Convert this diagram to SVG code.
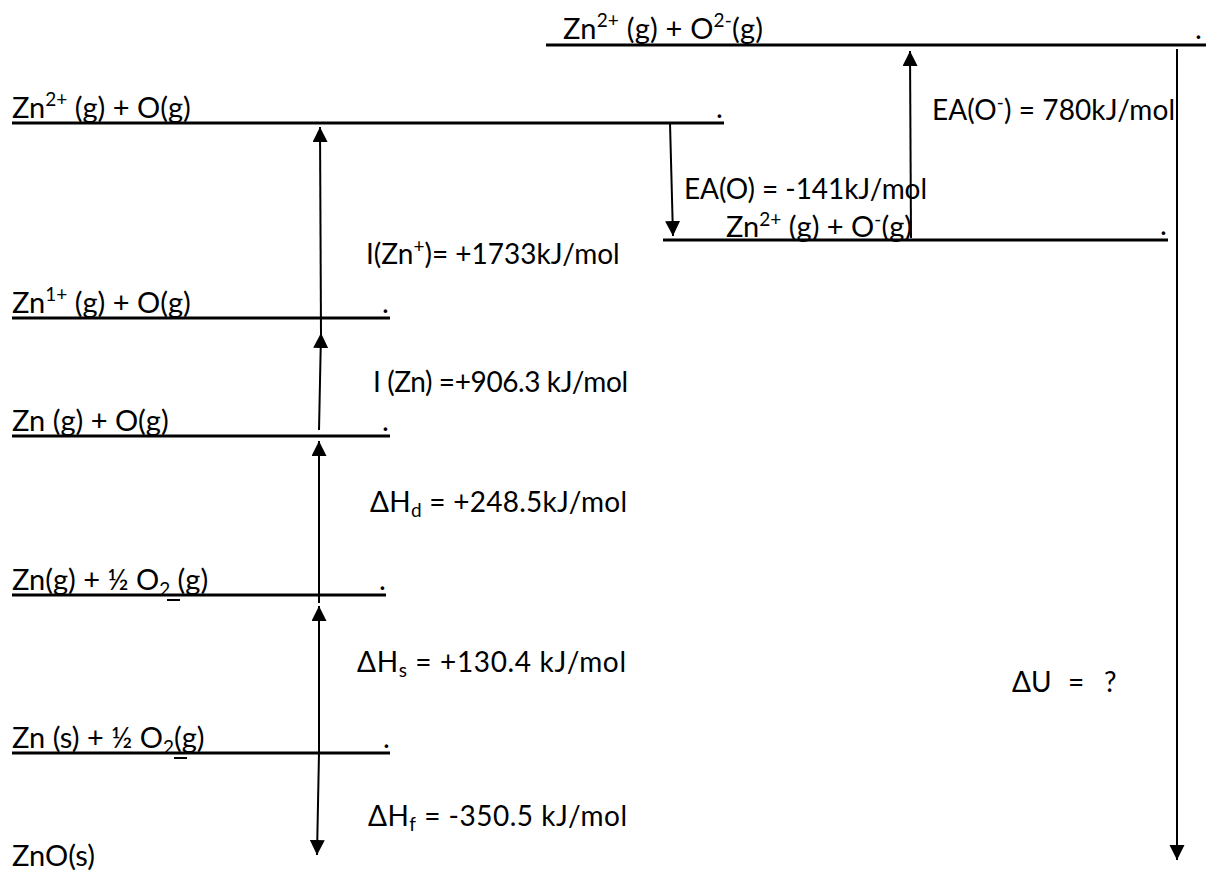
<svg xmlns="http://www.w3.org/2000/svg" width="1206" height="870" viewBox="0 0 1206 870">
<style>
text{font-family:Lato,"DejaVu Sans",sans-serif;font-size:29px;fill:#000}
.lab{font-size:28px}
.lvl{stroke:#000;stroke-width:3;fill:none}
.arr{stroke:#000;stroke-width:2;fill:none;marker-end:url(#ah)}
.sup{font-size:19px}
.ul{stroke:#000;stroke-width:2}
</style>
<defs>
<marker id="ah" markerUnits="userSpaceOnUse" markerWidth="16" markerHeight="16" refX="15" refY="7.5" orient="auto">
<path d="M0,0 L15,7.5 L0,15 z" fill="#000"/>
</marker>
</defs>
<rect width="1206" height="870" fill="#fff"/>
<g id="level-zn2-o2m">
<line class="lvl" x1="546" y1="45" x2="1206" y2="45"/>
<text x="563" y="39" textLength="200" lengthAdjust="spacing">Zn<tspan class="sup" dy="-12">2+</tspan><tspan dy="12"> (g) + O</tspan><tspan class="sup" dy="-12">2-</tspan><tspan dy="12">(g)</tspan></text>
<text x="1195" y="39">.</text>
</g>
<g id="level-zn2-o">
<line class="lvl" x1="12" y1="123" x2="724" y2="123"/>
<text x="12" y="118">Zn<tspan class="sup" dy="-12">2+</tspan><tspan dy="12"> (g) + O(g)</tspan></text>
<text x="716" y="118">.</text>
</g>
<g id="level-zn2-om">
<line class="lvl" x1="663" y1="240" x2="1168" y2="240"/>
<text x="726" y="237" textLength="186" lengthAdjust="spacing">Zn<tspan class="sup" dy="-11">2+</tspan><tspan dy="11"> (g) + O</tspan><tspan class="sup" dy="-11">-</tspan><tspan dy="11">(g)</tspan></text>
<text x="1160" y="235">.</text>
</g>
<g id="level-zn1-o">
<line class="lvl" x1="12" y1="318" x2="390" y2="318"/>
<text x="12" y="313">Zn<tspan class="sup" dy="-12">1+</tspan><tspan dy="12"> (g) + O(g)</tspan></text>
<text x="382" y="313">.</text>
</g>
<g id="level-zn-g-o">
<line class="lvl" x1="12" y1="436" x2="390" y2="436"/>
<text x="12" y="431">Zn (g) + O(g)</text>
<text x="382" y="431">.</text>
</g>
<g id="level-zn-g-o2">
<line class="lvl" x1="12" y1="595" x2="386" y2="595"/>
<text x="12" y="590">Zn(g) + ½ O<tspan class="sup" dy="6">2</tspan><tspan dy="-6"> (g)</tspan></text>
<line class="ul" x1="167" y1="600" x2="180" y2="600"/>
<text x="379" y="590">.</text>
</g>
<g id="level-zn-s-o2">
<line class="lvl" x1="12" y1="753" x2="390" y2="753"/>
<text x="12" y="748">Zn (s) + ½ O<tspan class="sup" dy="6">2</tspan><tspan dy="-6">(g)</tspan></text>
<line class="ul" x1="174" y1="758" x2="187" y2="758"/>
<text x="383" y="748">.</text>
</g>
<g id="level-zno">
<text x="12" y="866">ZnO(s)</text>
</g>
<g id="connectors">
<line class="arr" x1="319" y1="753" x2="319" y2="606"/>
<line class="arr" x1="319" y1="753" x2="317" y2="855"/>
<line class="arr" x1="319" y1="603" x2="319" y2="441"/>
<line class="arr" x1="319" y1="430" x2="321" y2="333"/>
<line class="arr" x1="321" y1="333" x2="320" y2="127"/>
<line class="arr" x1="670" y1="123" x2="673" y2="236"/>
<line class="arr" x1="911" y1="238" x2="910" y2="51"/>
<line class="arr" x1="1177" y1="49" x2="1177" y2="860"/>
</g>
<g id="labels">
<text class="lab" x="366" y="264">I(Zn<tspan class="sup" dy="-11">+</tspan><tspan dy="11">)= +1733kJ/mol</tspan></text>
<text class="lab" x="373" y="392" textLength="255" lengthAdjust="spacing">I (Zn) =+906.3 kJ/mol</text>
<text class="lab" x="370" y="512" textLength="257" lengthAdjust="spacing">ΔH<tspan class="sup" dy="5">d</tspan><tspan dy="-5"> = +248.5kJ/mol</tspan></text>
<text class="lab" x="357" y="672" textLength="269" lengthAdjust="spacing">ΔH<tspan class="sup" dy="5">s</tspan><tspan dy="-5"> = +130.4 kJ/mol</tspan></text>
<text class="lab" x="368" y="826" textLength="259" lengthAdjust="spacing">ΔH<tspan class="sup" dy="5">f</tspan><tspan dy="-5"> = -350.5 kJ/mol</tspan></text>
<text class="lab" x="684" y="199" textLength="243" lengthAdjust="spacing">EA(O) = -141kJ/mol</text>
<text class="lab" x="932" y="120" textLength="243" lengthAdjust="spacing">EA(O<tspan class="sup" dy="-11">-</tspan><tspan dy="11">) = 780kJ/mol</tspan></text>
<text class="lab" x="1012" y="692">ΔU<tspan x="1068">=</tspan><tspan x="1104">?</tspan></text>
</g>
</svg>
